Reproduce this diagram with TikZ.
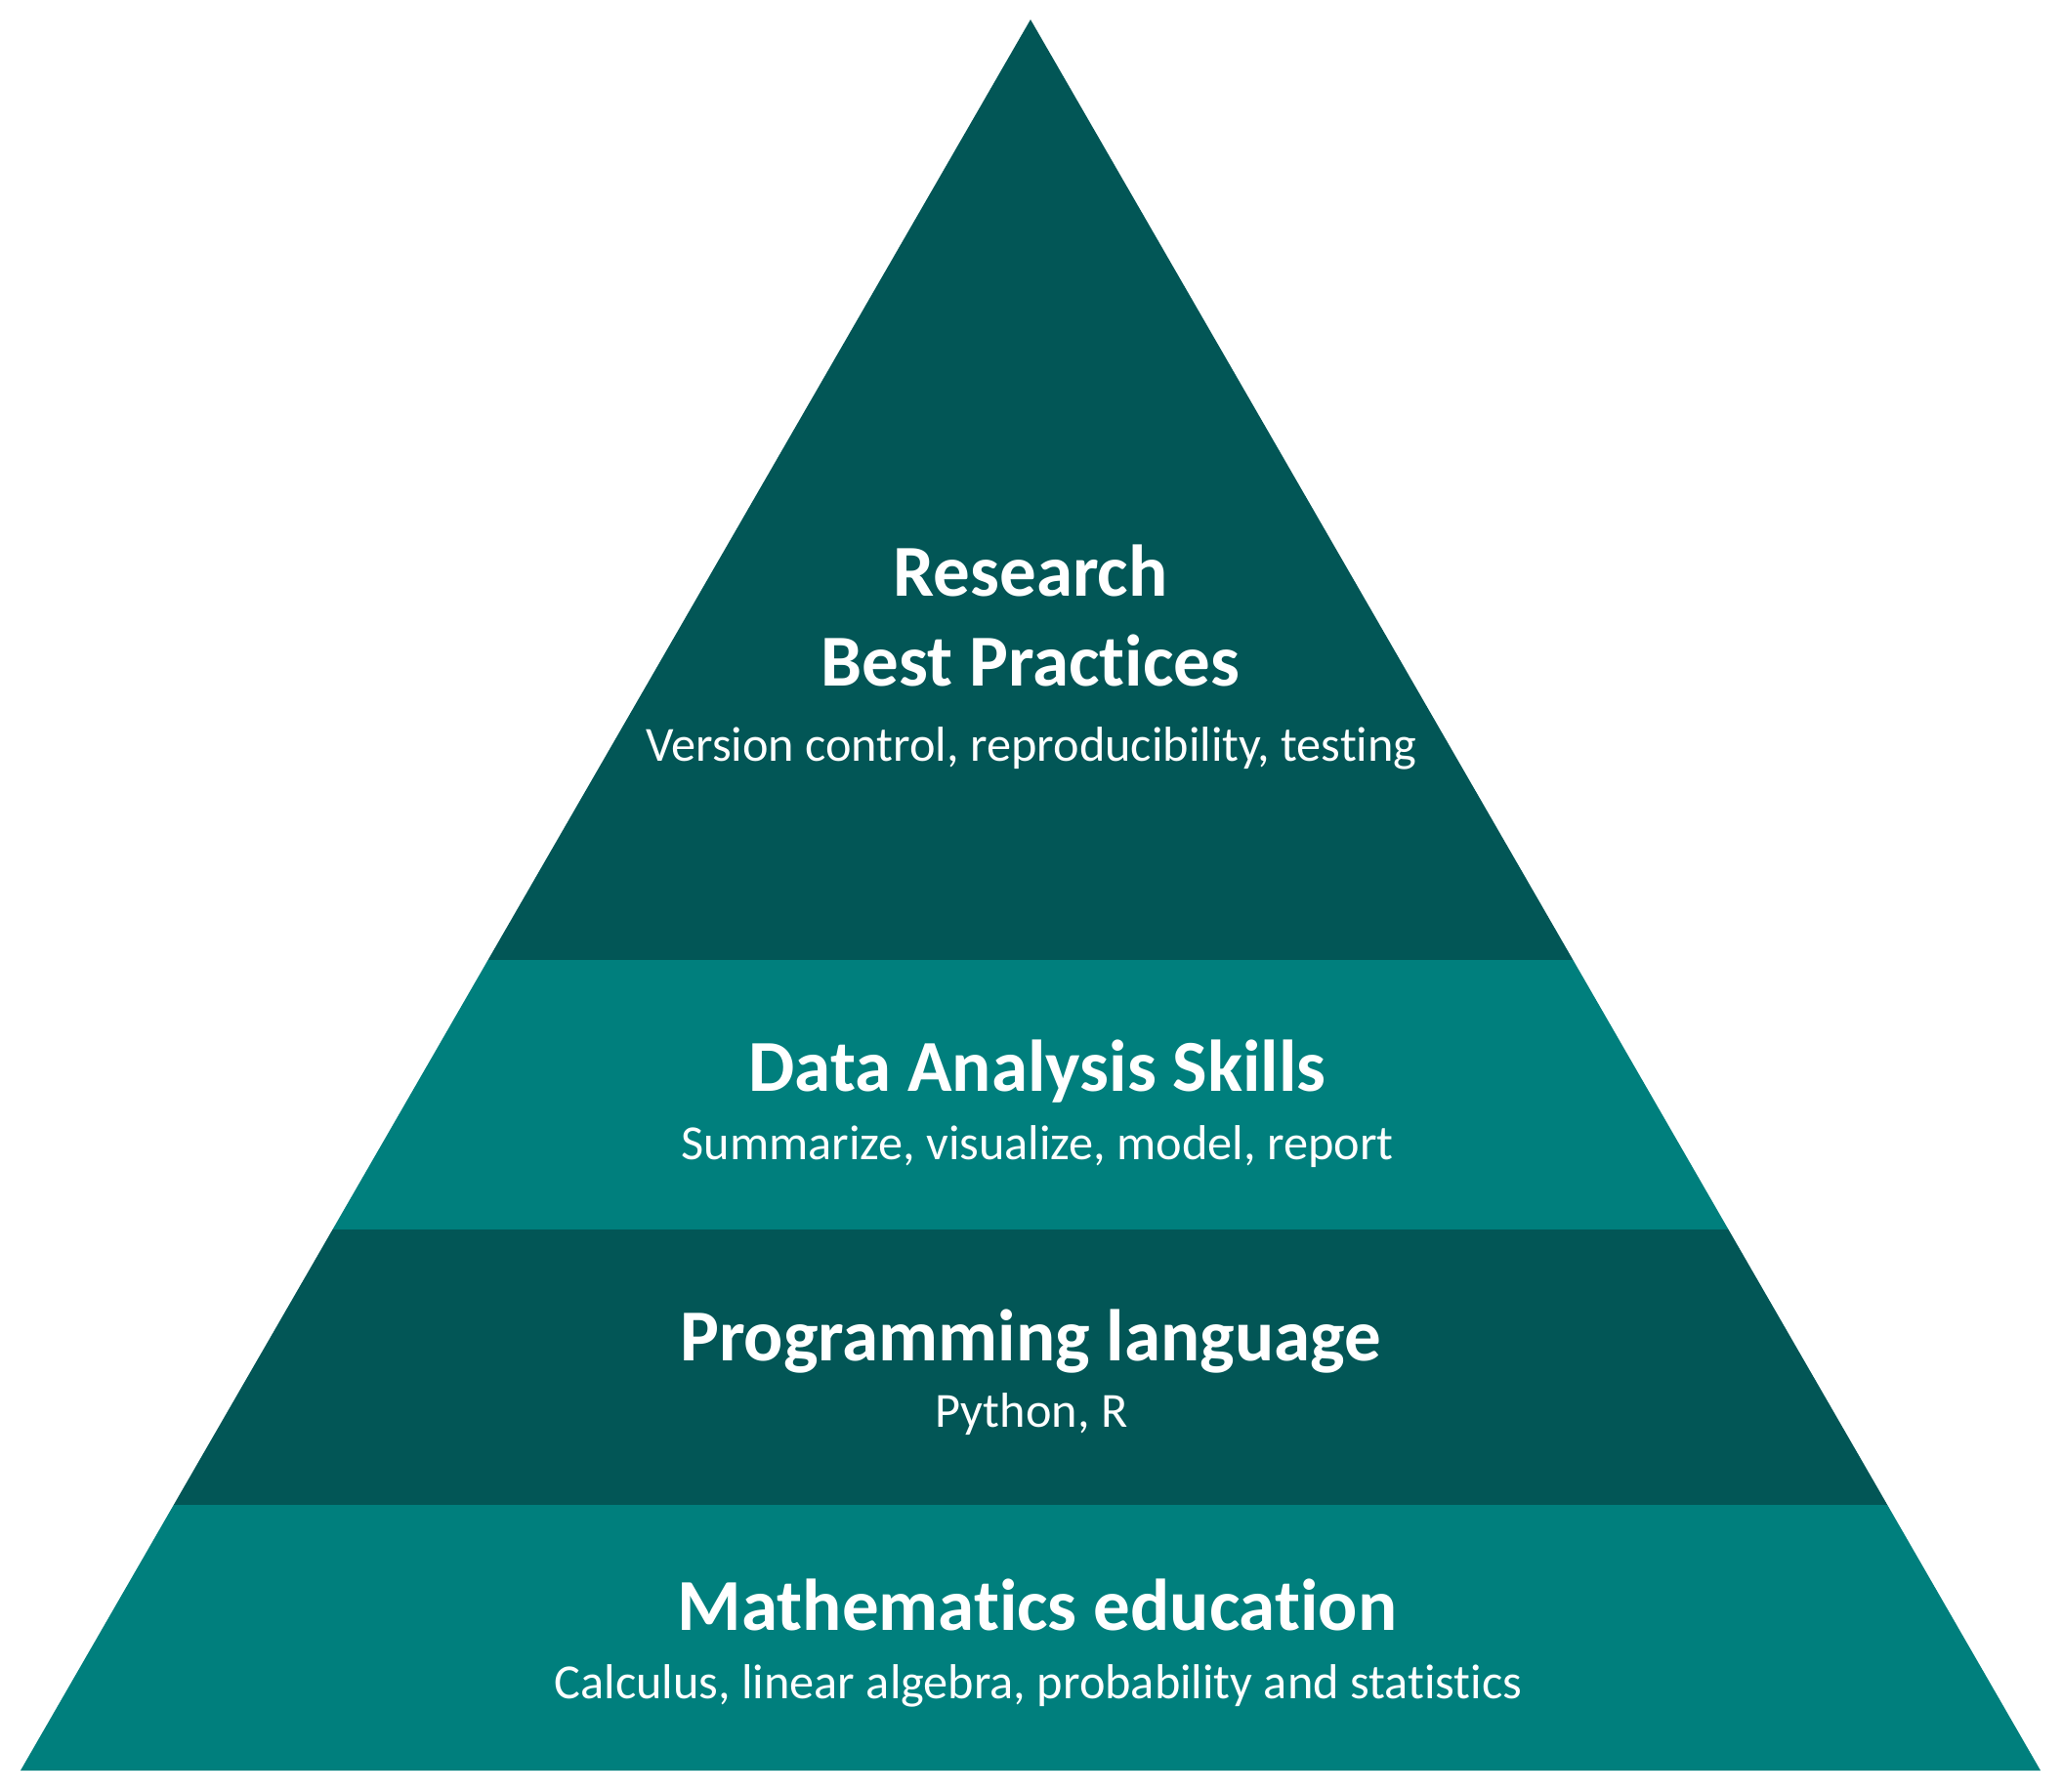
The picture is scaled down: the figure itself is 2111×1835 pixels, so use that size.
\documentclass[tikz,border=0pt]{standalone}
\usepackage{fontspec}
\setmainfont[Ligatures={NoCommon}]{Carlito}
\definecolor{darkteal}{HTML}{025656}
\definecolor{lightteal}{HTML}{007F7D}
\begin{document}
\begin{tikzpicture}[x=1pt,y=-1pt,
  title/.style={text=white,font=\bfseries\fontsize{75}{92}\selectfont,align=center,inner sep=0pt,anchor=base},
  sub/.style={text=white,font=\fontsize{50.3}{60}\selectfont,align=center,inner sep=0pt,anchor=base}]
\useasboundingbox (0,0) rectangle (2111,1835);
\coordinate (apex) at (1055,20);
\coordinate (l1) at (499.6,983);  \coordinate (r1) at (1610.4,983);
\coordinate (l2) at (340.5,1259); \coordinate (r2) at (1769.5,1259);
\coordinate (l3) at (177.8,1541); \coordinate (r3) at (1932.2,1541);
\coordinate (l4) at (21,1813);    \coordinate (r4) at (2089,1813);
\fill[darkteal] (apex) -- (r1) -- (l1) -- cycle;
\fill[lightteal] (l1) -- (r1) -- (r2) -- (l2) -- cycle;
\fill[darkteal] (l2) -- (r2) -- (r3) -- (l3) -- cycle;
\fill[lightteal] (l3) -- (r3) -- (r4) -- (l4) -- cycle;
\node[title] (t1a) at (1055,610) {Research};
\node[title] (t1b) at (1055,702) {Best Practices};
\node[sub] (s1) at (1056,779) {Version control, reproducibility, testing};
\node[title] (t2) at (1062,1117) {Data Analysis Skills};
\node[sub] (s2) at (1062,1187) {Summarize, visualize, model, report};
\node[title] (t3) at (1055,1393) {Programming language};
\node[sub] (s3) at (1056,1461) {Python, R};
\node[title] (t4) at (1062,1669) {Mathematics education};
\node[sub] (s4) at (1063,1739) {Calculus, linear algebra, probability and statistics};
\end{tikzpicture}
\end{document}
